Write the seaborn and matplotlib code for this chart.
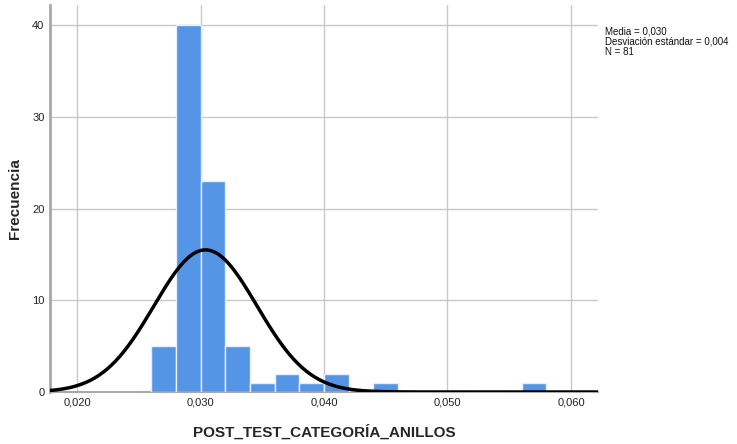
import numpy as np
import pandas as pd
import matplotlib
matplotlib.use("Agg")
import matplotlib.pyplot as plt
import seaborn as sns

# Histogram bins (left edges, width 0.002) and frequencies
bin_left = [0.026, 0.028, 0.030, 0.032, 0.034, 0.036, 0.038, 0.040, 0.044, 0.056]
freq = [5, 40, 23, 5, 1, 2, 1, 2, 1, 1]
bin_width = 0.002

# Summary statistics of the variable
mean = 0.0304
std = 0.00417
n = 81

x_ticks = [0.020, 0.030, 0.040, 0.050, 0.060]
x_tick_labels = ["0,020", "0,030", "0,040", "0,050", "0,060"]
y_ticks = [0, 10, 20, 30, 40]

sns.set_theme(style="white")
plt.rcParams["font.family"] = ["Liberation Sans", "DejaVu Sans"]

fig = plt.figure(figsize=(7.37, 4.44), dpi=100)
ax = fig.add_axes([50 / 737, 52 / 444, 548 / 737, 387 / 444])

df = pd.DataFrame({"center": np.array(bin_left) + bin_width / 2,
                   "freq": np.array(freq, dtype=float)})
sns.histplot(data=df, x="center", weights="freq", binwidth=bin_width,
             binrange=(0.026, 0.058),
             color="#5595E5", alpha=1.0, edgecolor="#E8EEF8", linewidth=1.0,
             ax=ax, zorder=3)

# Fitted normal curve scaled to counts
xs = np.linspace(0.0175, 0.0625, 400)
ys = n * bin_width * np.exp(-0.5 * ((xs - mean) / std) ** 2) / (std * np.sqrt(2 * np.pi))
sns.lineplot(x=xs, y=ys, color="black", linewidth=2.5, ax=ax, zorder=4)

ax.set_xlim(0.01781, 0.06219)
ax.set_ylim(0, 42.2)
ax.set_xticks(x_ticks)
ax.set_xticklabels(x_tick_labels)
ax.set_yticks(y_ticks)
ax.tick_params(axis="both", length=0, labelsize=8, colors="#222222", pad=4)
ax.grid(True, color="#C8C8C8", linewidth=1.0, zorder=0)
ax.set_axisbelow(True)

for side in ["top", "right"]:
    ax.spines[side].set_visible(False)
ax.spines["left"].set_color("#A8A8A8")
ax.spines["left"].set_linewidth(2)
ax.spines["bottom"].set_color("#A8A8A8")
ax.spines["bottom"].set_linewidth(1.5)

ax.set_xlabel("POST_TEST_CATEGORÍA_ANILLOS", fontsize=11, fontweight="bold", labelpad=12)
ax.set_ylabel("Frecuencia", fontsize=11, fontweight="bold", labelpad=7)

stats_text = (f"Media = {mean:.3f}".replace(".", ",") + "\n"
              + f"Desviación estándar = {std:.3f}".replace(".", ",") + "\n"
              + f"N = {n}")
fig.text(605 / 737, 1 - 26 / 444, stats_text, fontsize=7, va="top", ha="left",
         color="#111111", linespacing=1.05)

fig.savefig("out.png", dpi=100)
